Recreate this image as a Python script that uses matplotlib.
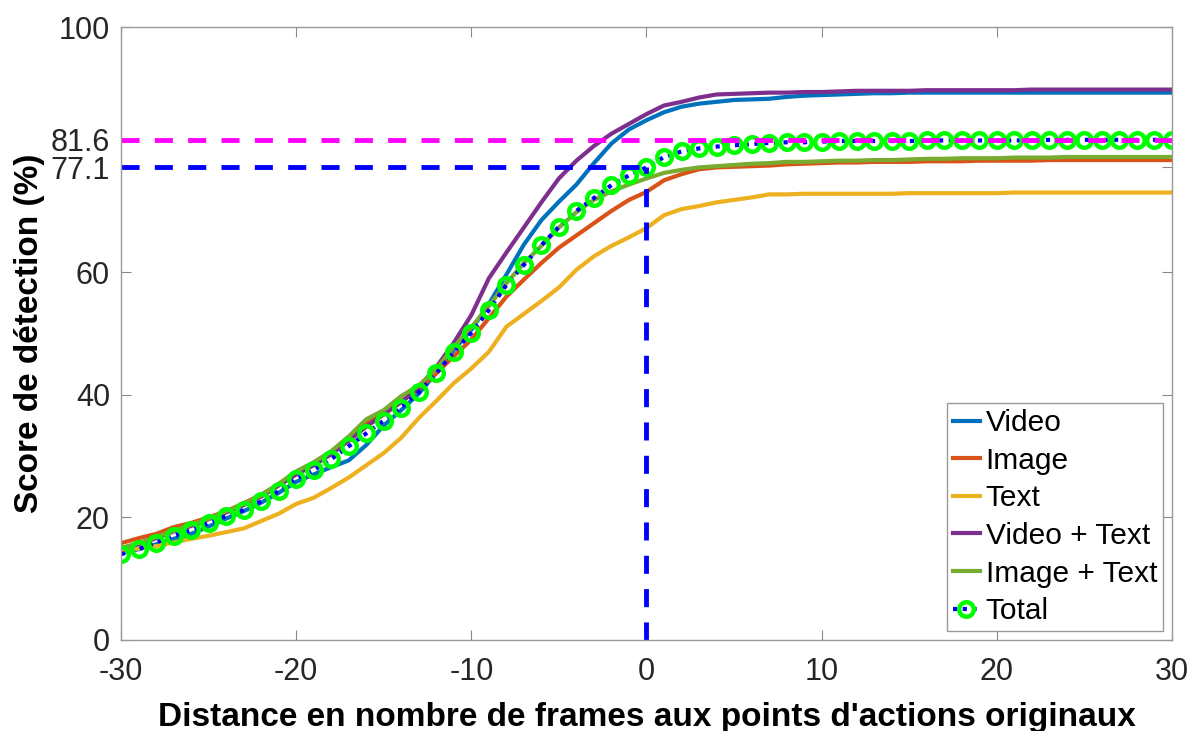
import numpy as np
import matplotlib
matplotlib.use('Agg')
import matplotlib.pyplot as plt

plt.rcParams['font.family'] = ['Liberation Sans', 'DejaVu Sans']
plt.rcParams['lines.scale_dashes'] = False
plt.rcParams['axes.unicode_minus'] = False

frames = np.arange(-30, 31)

video = [14.2, 14.8, 15.6, 16.5, 17.3, 18.5, 19.8, 21.0, 22.4, 24.0,
         25.8, 27.0, 28.2, 29.3, 31.8, 35.0, 37.5, 40.2, 43.6, 47.3,
         50.6, 54.8, 59.6, 64.5, 68.5, 71.5, 74.3, 77.8, 81.0, 83.3,
         84.8, 86.1, 87.0, 87.5, 87.8, 88.1, 88.2, 88.3, 88.6, 88.8,
         88.9, 89.0, 89.1, 89.2, 89.2, 89.3, 89.3, 89.3, 89.3, 89.3,
         89.3, 89.3, 89.3, 89.3, 89.3, 89.3, 89.3, 89.3, 89.3, 89.3, 89.3]
image = [15.8, 16.6, 17.3, 18.4, 19.1, 20.0, 21.0, 22.3, 23.7, 25.4,
         27.2, 28.7, 30.6, 33.0, 35.3, 37.2, 38.9, 41.0, 43.5, 46.3,
         49.0, 52.5, 56.0, 58.8, 61.5, 64.0, 66.0, 68.0, 70.0, 71.8,
         73.1, 75.0, 76.0, 76.8, 77.1, 77.2, 77.3, 77.4, 77.6, 77.7,
         77.8, 77.9, 77.9, 78.0, 78.0, 78.0, 78.1, 78.1, 78.1, 78.2,
         78.2, 78.2, 78.2, 78.3, 78.3, 78.3, 78.3, 78.3, 78.3, 78.3, 78.3]
text = [14.5, 14.9, 15.3, 15.9, 16.5, 17.0, 17.6, 18.2, 19.4, 20.6,
        22.2, 23.2, 24.8, 26.5, 28.5, 30.5, 33.0, 36.2, 39.0, 41.9,
        44.3, 47.0, 51.1, 53.2, 55.3, 57.5, 60.4, 62.6, 64.3, 65.7,
        67.2, 69.3, 70.3, 70.8, 71.4, 71.8, 72.2, 72.7, 72.7, 72.8,
        72.8, 72.8, 72.8, 72.8, 72.8, 72.9, 72.9, 72.9, 72.9, 72.9,
        72.9, 73.0, 73.0, 73.0, 73.0, 73.0, 73.0, 73.0, 73.0, 73.0, 73.0]
video_text = [15.0, 15.6, 16.6, 17.7, 18.6, 19.7, 20.8, 22.0, 23.4, 25.2,
              27.0, 28.5, 30.3, 32.5, 34.8, 36.8, 38.8, 41.2, 44.5, 48.5,
              53.0, 59.0, 63.2, 67.3, 71.4, 75.3, 78.2, 80.6, 82.6, 84.2,
              85.8, 87.2, 87.8, 88.5, 89.0, 89.1, 89.2, 89.3, 89.3, 89.4,
              89.4, 89.5, 89.6, 89.6, 89.6, 89.6, 89.7, 89.7, 89.7, 89.7,
              89.7, 89.7, 89.8, 89.8, 89.8, 89.8, 89.8, 89.8, 89.8, 89.8, 89.8]
image_text = [15.0, 15.8, 16.8, 17.8, 18.8, 19.8, 21.0, 22.2, 23.6, 25.5,
              27.5, 29.0, 30.8, 33.2, 36.0, 37.5, 39.8, 41.5, 44.2, 47.8,
              51.0, 54.5, 58.2, 61.5, 64.3, 67.3, 69.8, 71.8, 73.2, 74.3,
              75.3, 76.2, 76.7, 77.1, 77.3, 77.5, 77.7, 77.8, 78.0, 78.0,
              78.1, 78.2, 78.2, 78.3, 78.3, 78.4, 78.5, 78.5, 78.6, 78.6,
              78.6, 78.7, 78.7, 78.7, 78.8, 78.8, 78.8, 78.8, 78.8, 78.8, 78.8]
total = [14.0, 14.8, 15.9, 17.0, 17.9, 19.1, 20.2, 21.2, 22.6, 24.3,
         26.3, 27.7, 29.5, 31.6, 33.7, 35.8, 37.9, 40.4, 43.5, 47.0,
         50.1, 53.8, 57.9, 61.2, 64.4, 67.4, 70.0, 72.1, 74.2, 75.8,
         77.1, 78.8, 79.7, 80.2, 80.5, 80.7, 80.9, 81.1, 81.2, 81.2,
         81.3, 81.4, 81.4, 81.4, 81.4, 81.4, 81.5, 81.5, 81.5, 81.5,
         81.5, 81.5, 81.5, 81.6, 81.6, 81.6, 81.6, 81.6, 81.6, 81.6, 81.6]

score_at_0 = 77.1
score_max = 81.6
yticks = [0, 20, 40, 60, 77.1, 81.6, 100]
yticklabels = ['0', '20', '40', '60', '77.1', '81.6', '100']
xticks = [-30, -20, -10, 0, 10, 20, 30]

fig = plt.figure(figsize=(11.92, 7.31), dpi=100)
ax = fig.add_axes([0.1015, 0.1245, 0.8817, 0.8385])

lw = 3
ax.plot(frames, video, color='#0072BD', lw=lw, label='Video')
ax.plot(frames, image, color='#D95319', lw=lw, label='Image')
ax.plot(frames, text, color='#EDB120', lw=lw, label='Text')
ax.plot(frames, video_text, color='#7E2F8E', lw=lw, label='Video + Text')
ax.plot(frames, image_text, color='#77AC30', lw=lw, label='Image + Text')
ax.plot(frames, total, color='blue', lw=lw, dashes=(3, 4), marker='o',
        ms=10.5, mfc='none', mec='#00FF00', mew=3.2, label='Total')

# lignes de repere
ax.plot([-30, 30], [score_max, score_max], color='magenta', lw=3.5, dashes=(13, 11))
ax.plot([-30, 0], [score_at_0, score_at_0], color='blue', lw=3.5, dashes=(13, 11))
ax.plot([0, 0], [0, score_at_0], color='blue', lw=3.5, dashes=(13, 11))

ax.set_xlim(-30, 30)
ax.set_ylim(0, 100)
ax.set_xticks(xticks)
ax.set_yticks(yticks)
ax.set_yticklabels(yticklabels)
ax.tick_params(direction='in', length=7, width=0.8, colors='#888888',
               labelcolor='#262626', labelsize=22, top=True, right=True)
ax.tick_params(axis='x', pad=12)
ax.tick_params(axis='y', pad=8)
for s in ax.spines.values():
    s.set_color('#999999')
    s.set_linewidth(1)

ax.set_xlabel("Distance en nombre de frames aux points d'actions originaux",
              fontsize=24, fontweight='bold', labelpad=11)
ax.set_ylabel('Score de détection (%)', fontsize=24, fontweight='bold', labelpad=4)

leg = ax.legend(loc='lower right', fontsize=21.5, handlelength=0.9, handletextpad=0.2,
                borderpad=0.2, labelspacing=0.32, borderaxespad=0.3, fancybox=False,
                framealpha=1, edgecolor='#999999')
leg.get_frame().set_linewidth(1)

fig.savefig('out.png', dpi=100)
